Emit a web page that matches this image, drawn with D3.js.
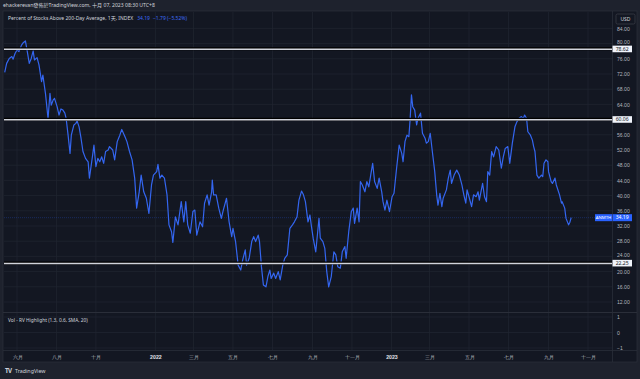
<!DOCTYPE html>
<html>
<head>
<meta charset="utf-8">
<script src="https://cdn.jsdelivr.net/npm/d3@7"></script>
<style>
  body { margin: 0; background: #1e222d; }
  svg { display: block; font-family: "Noto Sans", "Noto Sans CJK TC", sans-serif; }
</style>
</head>
<body>
<svg width="640" height="379"></svg>
<script>
// values
let dates = [
  "2021-05-13","2021-05-16","2021-05-20","2021-05-24","2021-05-26","2021-05-29","2021-06-01","2021-06-04","2021-06-08","2021-06-11",
  "2021-06-14","2021-06-16","2021-06-20","2021-06-23","2021-06-26","2021-06-28","2021-07-02","2021-07-05","2021-07-09","2021-07-11",
  "2021-07-15","2021-07-19","2021-07-22","2021-07-24","2021-07-27","2021-07-29","2021-08-02","2021-08-05","2021-08-08","2021-08-11",
  "2021-08-14","2021-08-16","2021-08-19","2021-08-22","2021-08-24","2021-08-28","2021-08-31","2021-09-02","2021-09-05","2021-09-08",
  "2021-09-11","2021-09-15","2021-09-19","2021-09-21","2021-09-26","2021-09-28","2021-10-01","2021-10-04","2021-10-07","2021-10-10",
  "2021-10-13","2021-10-16","2021-10-20","2021-10-22","2021-10-27","2021-10-30","2021-11-03","2021-11-07","2021-11-10","2021-11-15",
  "2021-11-18","2021-11-22","2021-11-26","2021-11-30","2021-12-03","2021-12-07","2021-12-10","2021-12-14","2021-12-18","2021-12-22",
  "2021-12-26","2021-12-29","2022-01-03","2022-01-05","2022-01-08","2022-01-11","2022-01-15","2022-01-19","2022-01-22","2022-01-26",
  "2022-01-28","2022-02-01","2022-02-05","2022-02-10","2022-02-14","2022-02-17","2022-02-20","2022-02-24","2022-02-28","2022-03-03",
  "2022-03-06","2022-03-11","2022-03-15","2022-03-18","2022-03-22","2022-03-25","2022-03-29","2022-03-30","2022-04-01","2022-04-05",
  "2022-04-09","2022-04-13","2022-04-16","2022-04-21","2022-04-25","2022-04-29","2022-05-01","2022-05-05","2022-05-09","2022-05-13",
  "2022-05-16","2022-05-20","2022-05-22","2022-05-26","2022-05-30","2022-06-02","2022-06-05","2022-06-09","2022-06-11","2022-06-14",
  "2022-06-17","2022-06-21","2022-06-24","2022-06-27","2022-06-29","2022-07-03","2022-07-06","2022-07-10","2022-07-13","2022-07-17",
  "2022-07-20","2022-07-24","2022-07-28","2022-08-01","2022-08-04","2022-08-08","2022-08-11","2022-08-15","2022-08-18","2022-08-21",
  "2022-08-25","2022-08-28","2022-08-30","2022-09-02","2022-09-06","2022-09-09","2022-09-11","2022-09-13","2022-09-17","2022-09-20",
  "2022-09-23","2022-09-26","2022-09-30","2022-10-04","2022-10-07","2022-10-10","2022-10-14","2022-10-17","2022-10-21","2022-10-23",
  "2022-10-27","2022-10-31","2022-11-03","2022-11-05","2022-11-09","2022-11-12","2022-11-14","2022-11-17","2022-11-21","2022-11-24",
  "2022-11-27","2022-11-30","2022-12-03","2022-12-06","2022-12-10","2022-12-13","2022-12-17","2022-12-19","2022-12-22","2022-12-25",
  "2022-12-29","2023-01-02","2023-01-05","2023-01-09","2023-01-13","2023-01-17","2023-01-19","2023-01-22","2023-01-25","2023-01-28",
  "2023-01-30","2023-02-01","2023-02-03","2023-02-06","2023-02-09","2023-02-11","2023-02-15","2023-02-18","2023-02-22","2023-02-24",
  "2023-02-27","2023-03-02","2023-03-05","2023-03-09","2023-03-12","2023-03-14","2023-03-17","2023-03-20","2023-03-22","2023-03-27",
  "2023-03-30","2023-04-02","2023-04-04","2023-04-08","2023-04-12","2023-04-16","2023-04-20","2023-04-23","2023-04-26","2023-04-28",
  "2023-05-01","2023-05-05","2023-05-08","2023-05-12","2023-05-15","2023-05-17","2023-05-22","2023-05-25","2023-05-28","2023-05-30",
  "2023-06-02","2023-06-05","2023-06-08","2023-06-12","2023-06-16","2023-06-20","2023-06-23","2023-06-26","2023-06-30","2023-07-03",
  "2023-07-07","2023-07-11","2023-07-14","2023-07-17","2023-07-21","2023-07-24","2023-07-26","2023-07-29","2023-07-31","2023-08-04",
  "2023-08-07","2023-08-09","2023-08-11","2023-08-14","2023-08-17","2023-08-21","2023-08-23","2023-08-25","2023-08-28","2023-08-31",
  "2023-09-01","2023-09-05","2023-09-07","2023-09-11","2023-09-13","2023-09-18","2023-09-21","2023-09-22","2023-09-26","2023-09-28",
  "2023-10-02","2023-10-04","2023-10-06"
];

let values = [
  72.4,74.8,76.1,76.6,75.9,77.4,78.3,77.9,79.6,80.3,
  80.7,78.8,74.8,76.1,78.1,75.7,76.3,74.4,70.0,71.7,
  66.9,60.3,66.9,63.8,65.2,65.6,63.4,61.2,62.8,62.5,
  61.7,60.3,55.9,51.1,55.9,58.6,59.0,59.6,58.1,55.1,
  51.6,49.8,48.9,44.6,50.7,53.3,47.6,49.8,48.9,50.2,
  48.5,51.6,52.0,52.9,52.0,49.4,54.2,55.9,57.4,55.5,
  54.2,51.6,49.4,44.6,36.7,41.0,45.4,41.0,39.3,35.3,
  42.8,45.4,46.3,48.2,44.6,45.4,44.6,40.2,32.3,30.5,
  27.7,34.4,32.3,38.4,33.1,38.4,32.3,30.1,35.8,36.2,
  29.6,33.1,31.8,38.0,40.2,37.5,41.0,44.1,40.2,40.2,
  36.7,34.0,36.2,39.3,33.1,29.2,31.4,27.9,21.7,20.4,
  23.1,25.7,21.7,23.5,27.9,29.2,27.9,29.6,27.9,21.3,
  16.5,16.0,18.7,20.4,18.2,19.6,18.2,20.0,17.8,21.7,
  23.5,24.4,31.4,32.3,33.1,34.4,38.8,41.2,40.2,38.4,
  33.1,34.9,32.3,28.8,25.2,30.5,34.0,28.8,27.9,26.1,
  20.0,16.0,18.7,25.2,24.4,21.3,20.9,25.2,26.6,23.5,
  30.5,35.8,36.7,32.7,36.7,33.1,43.7,42.8,41.0,43.7,
  42.3,45.4,48.5,43.7,41.9,44.6,41.0,38.4,36.2,38.8,
  35.8,39.7,40.6,47.2,53.3,51.1,48.9,54.2,55.9,55.5,
  60.3,66.5,63.4,62.5,58.6,60.3,61.7,56.4,55.1,53.8,
  54.2,56.4,52.0,46.3,40.2,37.5,40.6,37.1,39.3,41.5,
  44.6,46.7,43.2,45.4,46.7,45.4,42.8,40.2,38.0,41.5,
  39.7,37.1,40.2,39.7,41.0,38.8,43.2,39.7,38.4,46.3,
  45.4,51.6,50.2,52.9,52.0,47.2,50.2,52.4,52.9,48.5,
  53.8,58.1,59.4,60.3,60.8,60.3,61.2,60.3,56.8,55.9,
  54.6,52.9,51.6,45.4,44.6,45.4,45.0,48.5,49.4,48.9,
  46.3,43.7,43.2,44.6,42.8,40.2,38.0,38.4,36.7,34.0,
  32.3,33.0,34.19
];

let levelValues = [78.62, 60.06, 22.25];
let priceTicks = [12, 16, 20, 24, 28, 32, 36, 40, 44, 48, 52, 56, 60, 64, 68, 72, 76, 80, 84];
let subTicks = [1, 0, -1];
let monthTicks = ["2021-06-01","2021-08-01","2021-10-01","2022-01-01","2022-03-01","2022-05-01","2022-07-01",
  "2022-09-01","2022-11-01","2023-01-01","2023-03-01","2023-05-01","2023-07-01","2023-09-01","2023-11-01"];
let monthLabels = ["六月","八月","十月","2022","三月","五月","七月","九月","十一月","2023","三月","五月","七月","九月","十一月"];
let lastValue = 34.19;

let parse = d3.timeParse("%Y-%m-%d");
let data = dates.map((d, i) => ({ date: parse(d), value: values[i] }));

let svg = d3.select("svg"),
  paneLeft = 4, paneRight = 612,
  paneTop = 12, mainBottom = 312,
  subBottom = 350;

let x = d3.scaleTime()
  .domain([parse("2021-06-01"), parse("2023-11-01")])
  .range([17, 588]);
let y = d3.scaleLinear().domain([12, 84]).range([302, 28.4]);
let ySub = d3.scaleLinear().domain([-1, 1]).range([348, 317]);

// tick labels hidden behind a level label (like TradingView does)
let shownTicks = priceTicks.filter(t => levelValues.every(l => Math.abs(y(t) - y(l)) > 4.5));
// labels sitting just above/below a level label get pushed away a little
function tickNudge(t) {
  let near = levelValues.find(l => Math.abs(y(t) - y(l)) < 7);
  if (near === undefined) return 0;
  return y(t) < y(near) ? -2 : 2;
}

// backgrounds
svg.append("rect").attr("width", 640).attr("height", 379).attr("fill", "#1e222d");
svg.append("rect")
  .attr("x", 3).attr("y", 11).attr("width", 634).attr("height", 351)
  .attr("fill", "#131722").attr("stroke", "#2a2e39").attr("stroke-width", 0.8);

// grid
let grid = svg.append("g").attr("stroke", "#1f2430").attr("stroke-width", 0.8);
grid.selectAll(".hy").data(priceTicks).enter().append("line")
  .attr("x1", paneLeft).attr("x2", paneRight)
  .attr("y1", d => y(d)).attr("y2", d => y(d));
grid.selectAll(".vx").data(monthTicks).enter().append("line")
  .attr("x1", d => x(parse(d))).attr("x2", d => x(parse(d)))
  .attr("y1", paneTop).attr("y2", subBottom);
grid.selectAll(".hs").data(subTicks).enter().append("line")
  .attr("x1", paneLeft).attr("x2", paneRight)
  .attr("y1", d => ySub(d)).attr("y2", d => ySub(d));

// pane separators
svg.append("line").attr("x1", 3).attr("x2", 637).attr("y1", mainBottom + 0.5).attr("y2", mainBottom + 0.5)
  .attr("stroke", "#2a2e39").attr("stroke-width", 1);
svg.append("line").attr("x1", paneRight + 0.5).attr("x2", paneRight + 0.5).attr("y1", 11).attr("y2", 362)
  .attr("stroke", "#2a2e39").attr("stroke-width", 0.8);
svg.append("line").attr("x1", 3).attr("x2", 637).attr("y1", subBottom + 0.5).attr("y2", subBottom + 0.5)
  .attr("stroke", "#2a2e39").attr("stroke-width", 0.8);

// last value price line
svg.append("line")
  .attr("x1", paneLeft).attr("x2", paneRight)
  .attr("y1", y(lastValue)).attr("y2", y(lastValue))
  .attr("stroke", "#2962ff").attr("stroke-opacity", 0.45).attr("stroke-width", 0.6)
  .attr("stroke-dasharray", "1,1");

// main line
svg.append("clipPath").attr("id", "clip").append("rect")
  .attr("x", paneLeft).attr("y", paneTop).attr("width", paneRight - paneLeft).attr("height", mainBottom - paneTop);

let line = d3.line().x(d => x(d.date)).y(d => y(d.value));
svg.append("path")
  .datum(data)
  .attr("clip-path", "url(#clip)")
  .attr("fill", "none")
  .attr("stroke", "#3466f0")
  .attr("stroke-width", 1.2)
  .attr("stroke-linejoin", "round")
  .attr("d", line);

// horizontal levels
let levels = svg.append("g");
levels.selectAll(".shadow").data(levelValues).enter().append("line")
  .attr("x1", paneLeft).attr("x2", paneRight)
  .attr("y1", d => y(d)).attr("y2", d => y(d))
  .attr("stroke", "#000").attr("stroke-width", 3);
levels.selectAll(".lvl").data(levelValues).enter().append("line")
  .attr("x1", paneLeft).attr("x2", paneRight)
  .attr("y1", d => y(d) + 0.4).attr("y2", d => y(d) + 0.4)
  .attr("stroke", "#d1d4dc").attr("stroke-width", 1.4);

// price axis
let yAxis = svg.append("g")
  .attr("transform", "translate(" + (paneRight + 4) + ",0)")
  .call(d3.axisRight(y).tickValues(shownTicks).tickSize(0).tickFormat(d3.format(".2f")));
yAxis.select(".domain").remove();
yAxis.selectAll("text")
  .attr("fill", "#b2b5be").attr("font-size", 5.1).attr("x", 1).attr("font-family", null)
  .attr("y", d => tickNudge(d));

let subAxis = svg.append("g")
  .attr("transform", "translate(" + (paneRight + 4) + ",0)")
  .call(d3.axisRight(ySub).tickValues(subTicks).tickSize(0).tickFormat(d3.format("d")));
subAxis.select(".domain").remove();
subAxis.selectAll("text").attr("fill", "#b2b5be").attr("font-size", 5.1).attr("x", 1).attr("font-family", null);

// level labels
let lvlLabels = svg.append("g").selectAll("g").data(levelValues).enter().append("g")
  .attr("transform", d => "translate(" + paneRight + "," + y(d) + ")");
lvlLabels.append("rect").attr("x", 0.5).attr("y", -3.2).attr("width", 19.5).attr("height", 6.6)
  .attr("fill", "#f0f3fa");
lvlLabels.append("text").attr("x", 10.2).attr("dy", "0.35em").attr("text-anchor", "middle")
  .attr("font-size", 5.1).attr("fill", "#131722").text(d => d.toFixed(2));

// last value label
let lastG = svg.append("g").attr("transform", "translate(0," + y(lastValue) + ")");
lastG.append("rect").attr("x", 595).attr("y", -3.5).attr("width", 17).attr("height", 7).attr("fill", "#2962ff");
lastG.append("rect").attr("x", 612.5).attr("y", -3.5).attr("width", 19.5).attr("height", 7).attr("fill", "#2962ff");
lastG.append("text").attr("x", 603.5).attr("dy", "0.35em").attr("text-anchor", "middle")
  .attr("font-size", 4.3).attr("fill", "#fff").text("ANMTH");
lastG.append("text").attr("x", 622.2).attr("dy", "0.35em").attr("text-anchor", "middle")
  .attr("font-size", 5.1).attr("fill", "#fff").text(lastValue.toFixed(2));

// USD box
svg.append("rect").attr("x", 616).attr("y", 14).attr("width", 19).attr("height", 10).attr("rx", 1.5)
  .attr("fill", "#131722").attr("stroke", "#434651").attr("stroke-width", 0.6);
svg.append("text").attr("x", 625.5).attr("y", 21).attr("text-anchor", "middle")
  .attr("font-size", 5).attr("fill", "#d1d4dc").text("USD");

// time axis
let xAxis = svg.append("g")
  .attr("transform", "translate(0," + subBottom + ")")
  .call(d3.axisBottom(x).tickValues(monthTicks.map(parse)).tickSize(0)
    .tickFormat((d, i) => monthLabels[i]));
xAxis.select(".domain").remove();
xAxis.selectAll("text")
  .attr("y", 7).attr("dy", "0.35em")
  .attr("font-size", 5.2).attr("font-family", null)
  .attr("fill", (d, i) => /^\d+$/.test(monthLabels[i]) ? "#e0e3eb" : "#b2b5be")
  .attr("font-weight", (d, i) => /^\d+$/.test(monthLabels[i]) ? "bold" : null);

// legends
let legend = svg.append("text").attr("x", 8).attr("y", 19.5).attr("font-size", 5);
legend.append("tspan").attr("fill", "#d1d4dc").text("Percent of Stocks Above 200-Day Average, 1天, INDEX");
legend.append("tspan").attr("fill", "#3d6bf5").attr("dx", 4).text("34.19");
legend.append("tspan").attr("fill", "#3d6bf5").attr("dx", 3).text("−1.79 (−5.52%)");

svg.append("text").attr("x", 8).attr("y", 321.5).attr("font-size", 4.8).attr("fill", "#d1d4dc")
  .text("Vol - RV Highlight (1.3, 0.6, SMA, 20)");

// header and footer
svg.append("text").attr("x", 3).attr("y", 7.2).attr("font-size", 5.1).attr("fill", "#d1d4dc")
  .text("ehackerevan發佈於TradingView.com, 十月 07, 2023 08:30 UTC+8");

svg.append("text").attr("x", 5).attr("y", 373).attr("font-size", 6.2).attr("font-weight", "bold")
  .attr("fill", "#d1d4dc").attr("letter-spacing", -0.6).text("TV");
svg.append("text").attr("x", 15).attr("y", 373).attr("font-size", 5.3)
  .attr("fill", "#d1d4dc").text("TradingView");
</script>
</body>
</html>
